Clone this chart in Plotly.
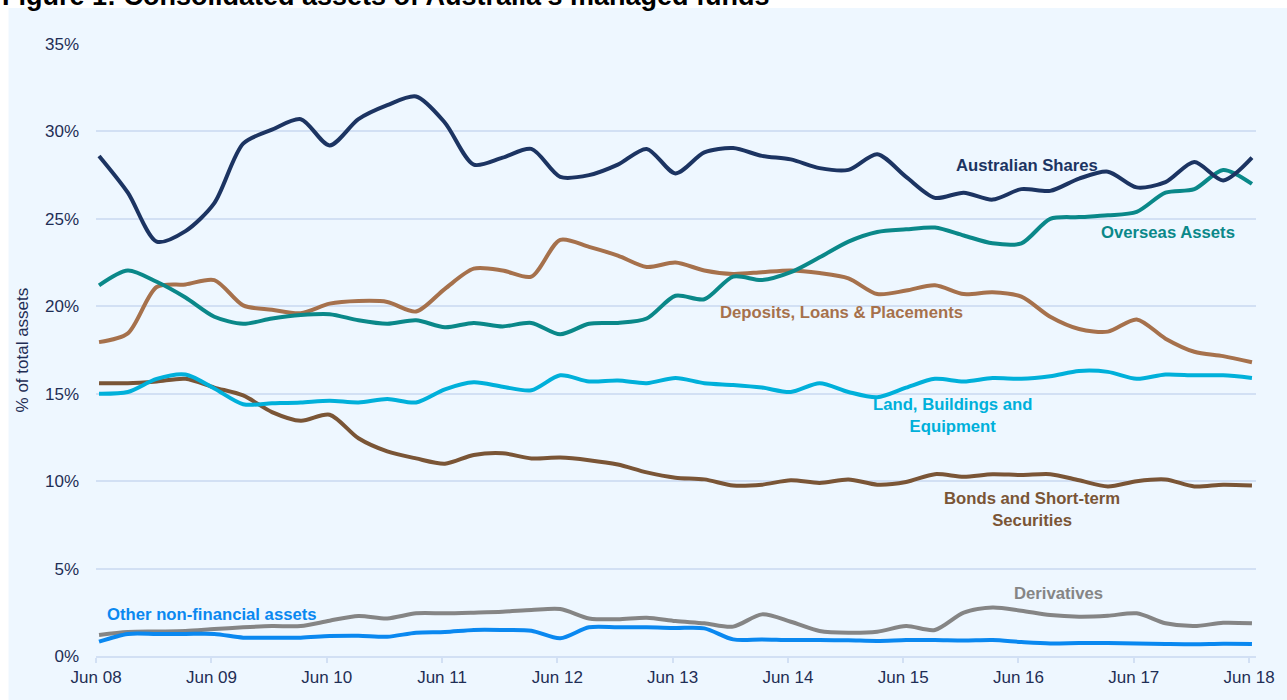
import plotly.graph_objects as go

# Quarterly observations Jun 08 .. Jun 18 (41 points), % of total assets
quarters = list(range(41))
tick_labels = ["Jun 08", "Jun 09", "Jun 10", "Jun 11", "Jun 12", "Jun 13",
               "Jun 14", "Jun 15", "Jun 16", "Jun 17", "Jun 18"]

australian_shares = [28.6, 26.5, 23.7, 24.3, 25.9, 29.3, 30.1, 30.7, 29.2, 30.7,
                     31.5, 32.0, 30.5, 28.1, 28.5, 29.0, 27.4, 27.5, 28.1, 29.0,
                     27.6, 28.8, 29.05, 28.6, 28.4, 27.9, 27.8, 28.7, 27.4, 26.2,
                     26.5, 26.1, 26.7, 26.6, 27.3, 27.7, 26.8, 27.1, 28.25, 27.2, 28.5]

overseas_assets = [21.2, 22.05, 21.4, 20.5, 19.4, 19.0, 19.3, 19.5, 19.55, 19.2,
                   19.0, 19.2, 18.8, 19.05, 18.85, 19.05, 18.4, 19.0, 19.05, 19.3,
                   20.6, 20.4, 21.7, 21.5, 21.95, 22.8, 23.7, 24.25, 24.4, 24.5,
                   24.05, 23.6, 23.6, 25.0, 25.1, 25.2, 25.4, 26.5, 26.7, 27.8, 27.0]

deposits_loans = [17.95, 18.45, 21.1, 21.25, 21.5, 20.05, 19.8, 19.6, 20.15, 20.3,
                  20.25, 19.7, 21.0, 22.15, 22.05, 21.7, 23.8, 23.4, 22.9, 22.25,
                  22.5, 22.05, 21.85, 21.95, 22.05, 21.9, 21.6, 20.7, 20.9, 21.2,
                  20.7, 20.8, 20.55, 19.4, 18.7, 18.55, 19.25, 18.15, 17.4, 17.15, 16.8]

land_buildings = [15.0, 15.1, 15.85, 16.1, 15.3, 14.4, 14.45, 14.5, 14.6, 14.5,
                  14.7, 14.5, 15.25, 15.65, 15.4, 15.2, 16.05, 15.7, 15.75, 15.6,
                  15.9, 15.6, 15.5, 15.35, 15.1, 15.6, 15.1, 14.8, 15.35, 15.85,
                  15.7, 15.9, 15.85, 16.0, 16.3, 16.25, 15.85, 16.1, 16.05, 16.05, 15.9]

bonds_securities = [15.6, 15.6, 15.7, 15.85, 15.35, 14.9, 13.95, 13.45, 13.8, 12.45,
                    11.7, 11.3, 11.0, 11.5, 11.6, 11.3, 11.35, 11.2, 10.95, 10.5,
                    10.2, 10.1, 9.75, 9.8, 10.05, 9.9, 10.1, 9.8, 9.95, 10.4,
                    10.25, 10.4, 10.35, 10.4, 10.05, 9.7, 10.0, 10.1, 9.7, 9.8, 9.75]

derivatives = [1.2, 1.37, 1.4, 1.43, 1.54, 1.64, 1.71, 1.71, 2.02, 2.29,
               2.15, 2.44, 2.44, 2.48, 2.53, 2.63, 2.69, 2.15, 2.1, 2.19,
               2.0, 1.87, 1.68, 2.38, 1.96, 1.43, 1.33, 1.39, 1.71, 1.49,
               2.48, 2.78, 2.59, 2.34, 2.25, 2.3, 2.44, 1.87, 1.71, 1.9, 1.87]

other_non_financial = [0.82, 1.26, 1.26, 1.26, 1.26, 1.05, 1.05, 1.05, 1.14, 1.16,
                       1.1, 1.33, 1.37, 1.49, 1.49, 1.45, 1.01, 1.64, 1.64, 1.64,
                       1.6, 1.58, 0.95, 0.95, 0.91, 0.91, 0.9, 0.86, 0.91, 0.91,
                       0.88, 0.91, 0.8, 0.72, 0.74, 0.74, 0.72, 0.69, 0.67, 0.7, 0.69]

C_NAVY = "#1C3462"
C_TEAL = "#0A8889"
C_TAN = "#A6714C"
C_CYAN = "#00B0DA"
C_BROWN = "#7A5536"
C_GRAY = "#858585"
C_BLUE = "#0A88F0"
TXT = "#1F2E55"
GRID = "#D2E0F4"
BG = "#EEF7FF"

series = [
    ("Derivatives", derivatives, C_GRAY),
    ("Other non-financial assets", other_non_financial, C_BLUE),
    ("Bonds and Short-term Securities", bonds_securities, C_BROWN),
    ("Land, Buildings and Equipment", land_buildings, C_CYAN),
    ("Deposits, Loans & Placements", deposits_loans, C_TAN),
    ("Overseas Assets", overseas_assets, C_TEAL),
    ("Australian Shares", australian_shares, C_NAVY),
]

fig = go.Figure()
for name, vals, col in series:
    fig.add_trace(go.Scatter(x=quarters, y=vals, mode="lines", name=name,
                             line=dict(color=col, width=4, shape="spline", smoothing=0.8),
                             hoverinfo="skip"))

FONT = "Liberation Sans, Arial, sans-serif"

labels = [
    ("Australian Shares", 32.2, 28.07, C_NAVY),
    ("Overseas Assets", 37.07, 24.24, C_TEAL),
    ("Deposits, Loans & Placements", 25.76, 19.67, C_TAN),
    ("Land, Buildings and<br>Equipment", 29.62, 13.75, C_CYAN),
    ("Bonds and Short-term<br>Securities", 32.38, 8.40, C_BROWN),
    ("Derivatives", 33.28, 3.60, C_GRAY),
    ("Other non-financial assets", 3.93, 2.40, C_BLUE),
]
for text, x, y, col in labels:
    fig.add_annotation(x=x, y=y, text="<b>" + text + "</b>", showarrow=False,
                       xanchor="center", yanchor="middle",
                       font=dict(family=FONT, size=16.7, color=col))

# axis title
fig.add_annotation(xref="paper", yref="paper", x=(22 - 96) / 1167, y=0.5,
                   text="% of total assets", textangle=-90, showarrow=False,
                   xanchor="center", yanchor="middle",
                   font=dict(family=FONT, size=17, color=TXT))

# chart title (cut off at the top as in the source)
fig.add_annotation(xref="paper", yref="paper", x=(0 - 96) / 1167, y=(656 - 12) / 612,
                   text="<b>Figure 1: Consolidated assets of Australia's managed funds</b>",
                   showarrow=False, xanchor="left", yanchor="bottom", borderpad=0,
                   font=dict(family=FONT, size=27, color="#000000"))

# light blue chart box
fig.add_shape(type="rect", xref="paper", yref="paper", layer="below",
              x0=(8 - 96) / 1167, x1=(1295 - 96) / 1167,
              y0=(656 - 710) / 612, y1=(656 - 8) / 612,
              fillcolor=BG, line=dict(width=0))

fig.update_layout(
    width=1287, height=700,
    margin=dict(l=96, r=24, t=44, b=44),
    paper_bgcolor="#FFFFFF", plot_bgcolor=BG,
    showlegend=False,
    font=dict(family=FONT, color=TXT),
)
fig.update_xaxes(range=[-0.105, 40.14], tickmode="array",
                 tickvals=[4 * k - 0.1 for k in range(11)], ticktext=tick_labels,
                 showgrid=False, zeroline=False, showline=True, linecolor=GRID, linewidth=2,
                 ticks="outside", ticklen=5, tickcolor=GRID, tickwidth=2,
                 tickfont=dict(family=FONT, size=17, color=TXT))
fig.update_yaxes(range=[0, 35], tickvals=[0, 5, 10, 15, 20, 25, 30, 35],
                 ticktext=["0%", "5%", "10%", "15%", "20%", "25%", "30%", "35%"],
                 showgrid=True, gridcolor=GRID, gridwidth=2, zeroline=False,
                 showline=False, ticks="", ticklabelstandoff=16,
                 tickfont=dict(family=FONT, size=17, color=TXT))

fig.write_html("out.html", config={"displayModeBar": False},
               post_script="document.body.style.margin='0px';")
